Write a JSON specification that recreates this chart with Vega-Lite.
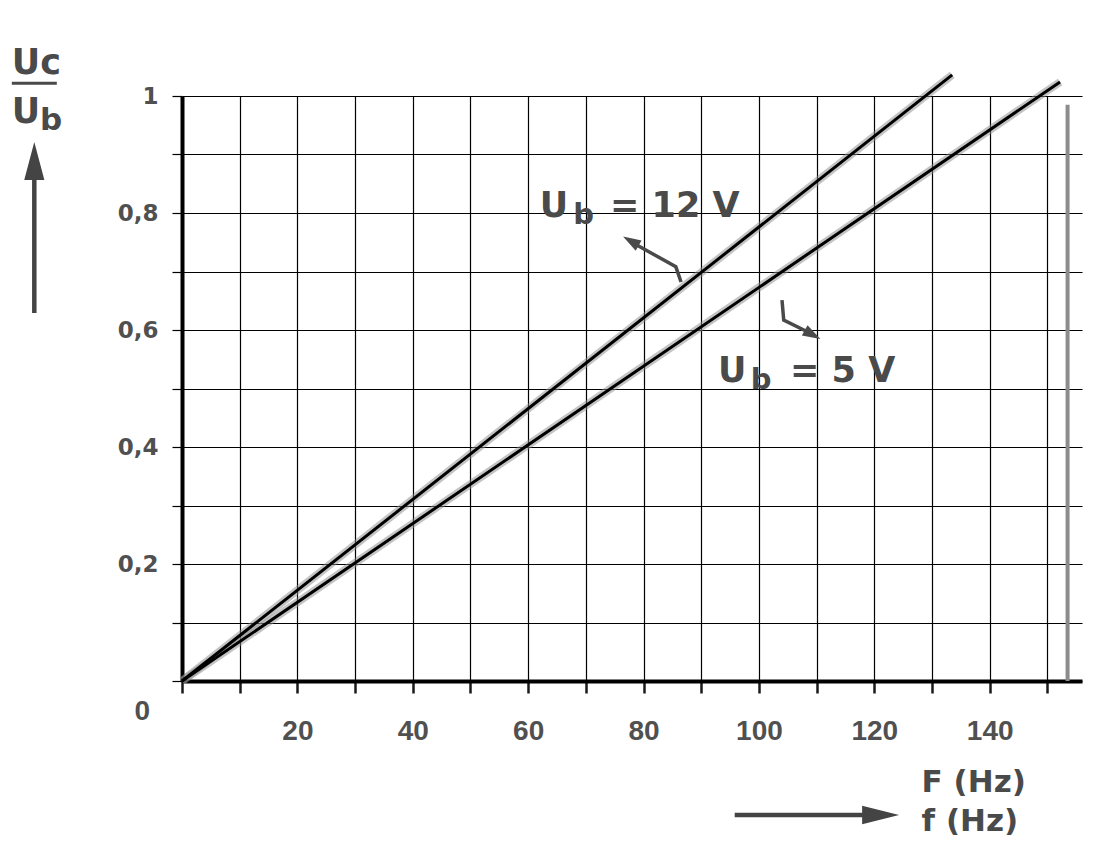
{
  "$schema": "https://vega.github.io/schema/vega-lite/v6.json",
  "autosize": "none",
  "width": 900,
  "height": 585,
  "padding": {"left": 182, "top": 96, "right": 28, "bottom": 172},
  "background": "white",
  "config": {"view": {"stroke": null}},
  "datasets": {
    "curves": [
      {"series": "Ub = 12 V", "x": 0, "y": 0},
      {"series": "Ub = 12 V", "x": 133.5, "y": 1.036},
      {"series": "Ub = 5 V", "x": 0, "y": 0},
      {"series": "Ub = 5 V", "x": 152.2, "y": 1.024}
    ],
    "texts": [
      {"kind": "annot", "t": "U", "x": 62.0, "y": 0.793},
      {"kind": "annotSub", "t": "b", "x": 67.8, "y": 0.781},
      {"kind": "annot", "t": "= 12 V", "x": 74.2, "y": 0.793},
      {"kind": "annot", "t": "U", "x": 92.9, "y": 0.511},
      {"kind": "annotSub", "t": "b", "x": 98.6, "y": 0.499},
      {"kind": "annot", "t": "= 5 V", "x": 105.4, "y": 0.511},
      {"kind": "ytitle", "t": "Uc", "x": -29.5, "y": 1.038},
      {"kind": "ytitle", "t": "U", "x": -29.5, "y": 0.954},
      {"kind": "ytitleSub", "t": "b", "x": -24.6, "y": 0.942},
      {"kind": "xtitle", "t": "F (Hz)", "x": 128.2, "y": -0.19},
      {"kind": "xtitle", "t": "f (Hz)", "x": 128.2, "y": -0.257}
    ],
    "zero": [{"t": "0", "x": -6.9, "y": -0.053}],
    "arrows": [
      {"id": "up", "k": 0, "x": -25.6, "y": 0.629},
      {"id": "up", "k": 1, "x": -25.6, "y": 0.87},
      {"id": "fx", "k": 0, "x": 95.8, "y": -0.229},
      {"id": "fx", "k": 1, "x": 119.5, "y": -0.229},
      {"id": "a12", "k": 0, "x": 86.5, "y": 0.682},
      {"id": "a12", "k": 1, "x": 85.6, "y": 0.708},
      {"id": "a12", "k": 2, "x": 78.9, "y": 0.745},
      {"id": "a5", "k": 0, "x": 104.0, "y": 0.651},
      {"id": "a5", "k": 1, "x": 104.3, "y": 0.617},
      {"id": "a5", "k": 2, "x": 108.4, "y": 0.597}
    ],
    "heads": [
      {"name": "up", "x": -25.6, "y": 0.889},
      {"name": "right", "x": 121.1, "y": -0.229},
      {"name": "h12", "x": 77.8, "y": 0.752},
      {"name": "h5", "x": 109.3, "y": 0.592}
    ],
    "bar": [{"x": -29.5, "x2": -21.7, "y": 1.022}],
    "border": [{"x": 153.5, "y": 0, "y2": 0.985}]
  },
  "layer": [
    {
      "data": {"name": "curves"},
      "mark": {"type": "line", "stroke": "#8a8a8a", "strokeWidth": 8, "opacity": 0.5},
      "encoding": {
        "x": {
          "field": "x", "type": "quantitative",
          "scale": {"domain": [0, 156], "nice": false, "zero": false},
          "axis": {
            "title": null,
            "values": [0, 10, 20, 30, 40, 50, 60, 70, 80, 90, 100, 110, 120, 130, 140, 150],
            "labelExpr": "datum.value > 0 && datum.value % 20 == 0 ? datum.label : ''",
            "format": "d",
            "grid": true, "gridColor": "#000000", "gridWidth": 1.2, "gridOpacity": 1,
            "domainColor": "#000000", "domainWidth": 4,
            "tickColor": "#1a1a1a", "tickWidth": 2.5, "tickSize": 12,
            "labelPadding": 24, "labelFontSize": 28, "labelFont": "Liberation Sans",
            "labelFontWeight": "bold", "labelColor": "#505050", "labelBaseline": "top"
          }
        },
        "y": {
          "field": "y", "type": "quantitative",
          "scale": {"domain": [0, 1], "nice": false, "zero": false},
          "axis": {
            "title": null,
            "values": [0, 0.1, 0.2, 0.3, 0.4, 0.5, 0.6, 0.7, 0.8, 0.9, 1],
            "labelExpr": "datum.value > 0.05 && round(datum.value * 10) % 2 == 0 ? (datum.value > 0.95 ? '1' : replace(format(datum.value, '.1f'), '.', ',')) : ''",
            "grid": true, "gridColor": "#000000", "gridWidth": 1.2, "gridOpacity": 1,
            "domainColor": "#000000", "domainWidth": 4,
            "tickColor": "#000000", "tickWidth": 1.2, "tickSize": 10,
            "labelPadding": 14, "labelFontSize": 23, "labelFont": "DejaVu Sans",
            "labelFontWeight": "bold", "labelColor": "#505050"
          }
        },
        "detail": {"field": "series"}
      }
    },
    {
      "data": {"name": "curves"},
      "mark": {"type": "line", "stroke": "#000000", "strokeWidth": 3},
      "encoding": {
        "x": {"field": "x", "type": "quantitative"},
        "y": {"field": "y", "type": "quantitative"},
        "detail": {"field": "series"}
      }
    },
    {
      "data": {"name": "border"},
      "mark": {"type": "rule", "stroke": "#8c8c8c", "strokeWidth": 4},
      "encoding": {
        "x": {"field": "x", "type": "quantitative"},
        "y": {"field": "y", "type": "quantitative"},
        "y2": {"field": "y2"}
      }
    },
    {
      "data": {"name": "bar"},
      "mark": {"type": "rule", "stroke": "#4a4a4a", "strokeWidth": 3},
      "encoding": {
        "x": {"field": "x", "type": "quantitative"},
        "x2": {"field": "x2"},
        "y": {"field": "y", "type": "quantitative"}
      }
    },
    {
      "data": {"name": "arrows"},
      "transform": [{"filter": "datum.id == 'up' || datum.id == 'fx'"}],
      "mark": {"type": "line", "stroke": "#444444", "strokeWidth": 4.5},
      "encoding": {
        "x": {"field": "x", "type": "quantitative"},
        "y": {"field": "y", "type": "quantitative"},
        "detail": {"field": "id"},
        "order": {"field": "k"}
      }
    },
    {
      "data": {"name": "arrows"},
      "transform": [{"filter": "datum.id == 'a12' || datum.id == 'a5'"}],
      "mark": {"type": "line", "stroke": "#4a4a4a", "strokeWidth": 3.5},
      "encoding": {
        "x": {"field": "x", "type": "quantitative"},
        "y": {"field": "y", "type": "quantitative"},
        "detail": {"field": "id"},
        "order": {"field": "k"}
      }
    },
    {
      "data": {"name": "heads"},
      "transform": [{"filter": "datum.name == 'up'"}],
      "mark": {"type": "point", "shape": "M0,-1L0.53,1L-0.53,1Z", "size": 1444, "filled": true, "fill": "#444444", "opacity": 1, "angle": 0},
      "encoding": {"x": {"field": "x", "type": "quantitative"}, "y": {"field": "y", "type": "quantitative"}}
    },
    {
      "data": {"name": "heads"},
      "transform": [{"filter": "datum.name == 'right'"}],
      "mark": {"type": "point", "shape": "M0,-1L0.5,1L-0.5,1Z", "size": 1369, "filled": true, "fill": "#444444", "opacity": 1, "angle": 90},
      "encoding": {"x": {"field": "x", "type": "quantitative"}, "y": {"field": "y", "type": "quantitative"}}
    },
    {
      "data": {"name": "heads"},
      "transform": [{"filter": "datum.name == 'h12'"}],
      "mark": {"type": "point", "shape": "M0,-1L0.65,1L-0.65,1Z", "size": 324, "filled": true, "fill": "#4a4a4a", "opacity": 1, "angle": 300},
      "encoding": {"x": {"field": "x", "type": "quantitative"}, "y": {"field": "y", "type": "quantitative"}}
    },
    {
      "data": {"name": "heads"},
      "transform": [{"filter": "datum.name == 'h5'"}],
      "mark": {"type": "point", "shape": "M0,-1L0.65,1L-0.65,1Z", "size": 324, "filled": true, "fill": "#4a4a4a", "opacity": 1, "angle": 119},
      "encoding": {"x": {"field": "x", "type": "quantitative"}, "y": {"field": "y", "type": "quantitative"}}
    },
    {
      "data": {"name": "texts"},
      "transform": [{"filter": "datum.kind == 'annot'"}],
      "mark": {"type": "text", "align": "left", "baseline": "alphabetic", "font": "DejaVu Sans", "fontWeight": "bold", "fontSize": 35, "fill": "#4a4a4a"},
      "encoding": {"x": {"field": "x", "type": "quantitative"}, "y": {"field": "y", "type": "quantitative"}, "text": {"field": "t"}}
    },
    {
      "data": {"name": "texts"},
      "transform": [{"filter": "datum.kind == 'annotSub'"}],
      "mark": {"type": "text", "align": "left", "baseline": "alphabetic", "font": "DejaVu Sans", "fontWeight": "bold", "fontSize": 29, "fill": "#4a4a4a"},
      "encoding": {"x": {"field": "x", "type": "quantitative"}, "y": {"field": "y", "type": "quantitative"}, "text": {"field": "t"}}
    },
    {
      "data": {"name": "texts"},
      "transform": [{"filter": "datum.kind == 'ytitle'"}],
      "mark": {"type": "text", "align": "left", "baseline": "alphabetic", "font": "DejaVu Sans", "fontWeight": "bold", "fontSize": 35, "fill": "#4a4a4a"},
      "encoding": {"x": {"field": "x", "type": "quantitative"}, "y": {"field": "y", "type": "quantitative"}, "text": {"field": "t"}}
    },
    {
      "data": {"name": "texts"},
      "transform": [{"filter": "datum.kind == 'ytitleSub'"}],
      "mark": {"type": "text", "align": "left", "baseline": "alphabetic", "font": "DejaVu Sans", "fontWeight": "bold", "fontSize": 31, "fill": "#4a4a4a"},
      "encoding": {"x": {"field": "x", "type": "quantitative"}, "y": {"field": "y", "type": "quantitative"}, "text": {"field": "t"}}
    },
    {
      "data": {"name": "texts"},
      "transform": [{"filter": "datum.kind == 'xtitle'"}],
      "mark": {"type": "text", "align": "left", "baseline": "alphabetic", "font": "DejaVu Sans", "fontWeight": "bold", "fontSize": 31, "fill": "#4a4a4a"},
      "encoding": {"x": {"field": "x", "type": "quantitative"}, "y": {"field": "y", "type": "quantitative"}, "text": {"field": "t"}}
    },
    {
      "data": {"name": "zero"},
      "mark": {"type": "text", "align": "center", "baseline": "middle", "font": "Liberation Sans", "fontWeight": "bold", "fontSize": 28, "fill": "#505050"},
      "encoding": {"x": {"field": "x", "type": "quantitative"}, "y": {"field": "y", "type": "quantitative"}, "text": {"field": "t"}}
    }
  ]
}
